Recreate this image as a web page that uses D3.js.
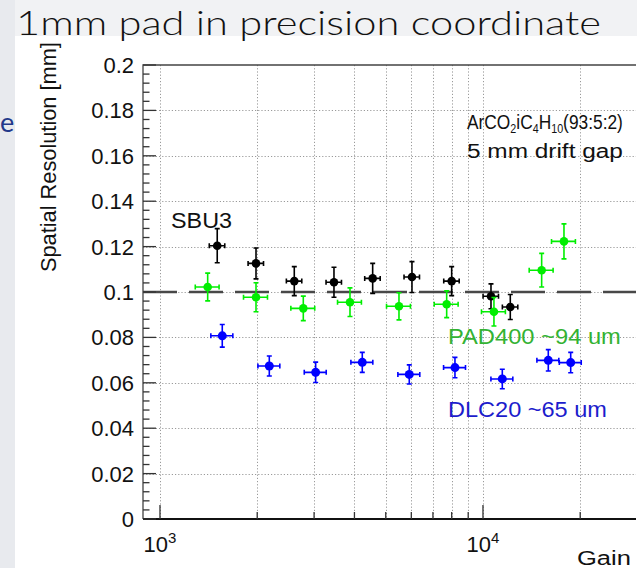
<!DOCTYPE html>
<html>
<head>
<meta charset="utf-8">
<script src="https://cdn.jsdelivr.net/npm/d3@7"></script>
<style>
  html, body { margin: 0; padding: 0; background: #ffffff; }
  svg { display: block; }
</style>
</head>
<body>
<svg id="chart" width="637" height="568"></svg>
<script>
// ---------------- data ----------------
const sbu3Gain     = [1504, 1983, 2605, 3457, 4555, 6028, 8000, 10588, 12150];
const sbu3GainErr  = [83, 109, 143, 190, 251, 332, 440, 582, 668];
const sbu3Res      = [0.1204, 0.1126, 0.1048, 0.1043, 0.1060, 0.1066, 0.1048, 0.0981, 0.0934];
const sbu3ResErr   = [0.0075, 0.0068, 0.0064, 0.0066, 0.0066, 0.0068, 0.0064, 0.0055, 0.0055];

const pad400Gain    = [1405, 1983, 2778, 3875, 5495, 7720, 10814, 15195, 17815];
const pad400GainErr = [119, 169, 236, 329, 467, 656, 919, 1292, 1514];
const pad400Res     = [0.1022, 0.0977, 0.0928, 0.0955, 0.0937, 0.0946, 0.0913, 0.1096, 0.1223];
const pad400ResErr  = [0.0061, 0.0064, 0.0054, 0.0063, 0.0060, 0.0059, 0.0063, 0.0074, 0.0077];

const dlc20Gain    = [1559, 2180, 3034, 4230, 5913, 8190, 11477, 15930, 18690];
const dlc20GainErr = [122, 170, 237, 330, 461, 639, 895, 1243, 1458];
const dlc20Res     = [0.0807, 0.0674, 0.0646, 0.0690, 0.0637, 0.0667, 0.0617, 0.0699, 0.0689];
const dlc20ResErr  = [0.0050, 0.0044, 0.0045, 0.0044, 0.0042, 0.0045, 0.0043, 0.0047, 0.0045];

const xDomain = [886, 29770];
const yDomain = [0, 0.2];
const xGridValues = [1000, 2000, 3000, 4000, 5000, 6000, 7000, 8000, 9000, 10000, 20000];
const xDecadeTicks = [1000, 10000];
const xDecadeExponents = ["3", "4"];
const yTickValues = [0, 0.02, 0.04, 0.06, 0.08, 0.1, 0.12, 0.14, 0.16, 0.18, 0.2];
const yTickLabels = ["0", "0.02", "0.04", "0.06", "0.08", "0.1", "0.12", "0.14", "0.16", "0.18", "0.2"];
const referenceLevel = 0.1;

const titleText = "1mm pad in precision coordinate";
const yAxisTitle = "Spatial Resolution [mm]";
const xAxisTitle = "Gain";

// ---------------- layout ----------------
const svg = d3.select("#chart");
const L = 143, R = 636, T = 65, B = 519;
const x = d3.scaleLog().domain(xDomain).range([L, R]);
const y = d3.scaleLinear().domain(yDomain).range([B, T]);
const SANS = "'Liberation Sans', Arial, Helvetica, sans-serif";

// helper: stretch text horizontally so that it spans x0..x1
function fit(sel, x0, x1, baseline) {
  const bb = sel.node().getBBox();
  const s = (x1 - x0) / bb.width;
  sel.attr("x", 0).attr("y", 0)
     .attr("transform", `translate(${x0 - bb.x * s},${baseline}) scale(${s},1)`);
}

// slide background
svg.append("rect").attr("width", 637).attr("height", 568).attr("fill", "#f1f2f4");
svg.append("rect").attr("x", 15).attr("y", 36).attr("width", 622).attr("height", 532).attr("fill", "#ffffff");
svg.append("rect").attr("x", 0).attr("y", 0).attr("width", 15).attr("height", 568).attr("fill", "#e8eaee");
svg.append("text").attr("x", 0).attr("y", 132).attr("font-family", "Lato, sans-serif")
   .attr("font-size", 27).attr("fill", "#22398a").text("e");

// title
const title = svg.append("text").attr("font-family", "Lato, 'Open Sans', sans-serif")
   .attr("font-size", 34).attr("font-weight", 300).attr("fill", "#111").text(titleText);
fit(title, 16, 601, 35);

// grid
const grid = svg.append("g").attr("stroke", "#9a9a9a").attr("stroke-width", 1).attr("stroke-dasharray", "1.2,2");
grid.selectAll("line.v").data(xGridValues).join("line").attr("class", "v")
  .attr("x1", d => Math.round(x(d)) + 0.5).attr("x2", d => Math.round(x(d)) + 0.5)
  .attr("y1", T).attr("y2", B);
grid.selectAll("line.h").data(yTickValues.filter(v => v > 0 && v < 0.2)).join("line").attr("class", "h")
  .attr("y1", d => Math.round(y(d)) + 0.5).attr("y2", d => Math.round(y(d)) + 0.5)
  .attr("x1", L).attr("x2", R);

// reference dashed line
svg.append("line").attr("x1", L).attr("x2", R)
  .attr("y1", y(referenceLevel)).attr("y2", y(referenceLevel))
  .attr("stroke", "#484848").attr("stroke-width", 2.5).attr("stroke-dasharray", "34,12");

// frame
svg.append("path").attr("d", `M${L},${B}V${T}H${R}`).attr("fill", "none")
  .attr("stroke", "#444").attr("stroke-width", 1.3);
svg.append("line").attr("x1", L).attr("x2", R).attr("y1", B).attr("y2", B)
  .attr("stroke", "#111").attr("stroke-width", 2);

// y axis ticks
const yMinor = d3.range(0, 0.2001, 0.004);
svg.append("g").selectAll("line").data(yMinor).join("line")
  .attr("x1", L).attr("x2", (d, i) => L + (i % 5 === 0 ? 13 : 6.5))
  .attr("y1", d => y(d)).attr("y2", d => y(d))
  .attr("stroke", "#333").attr("stroke-width", 1.3);
svg.append("g").selectAll("text").data(yTickValues).join("text")
  .attr("x", 134).attr("y", d => y(d)).attr("dy", "0.36em")
  .attr("text-anchor", "end").attr("font-family", SANS).attr("font-size", 22).attr("fill", "#111")
  .text((d, i) => yTickLabels[i]);

// x axis ticks
svg.append("g").selectAll("line").data(xGridValues).join("line")
  .attr("x1", d => x(d)).attr("x2", d => x(d))
  .attr("y1", B).attr("y2", d => B - (xDecadeTicks.includes(d) ? 14 : 7))
  .attr("stroke", "#333").attr("stroke-width", 1.3);
xDecadeTicks.forEach((d, i) => {
  const t = svg.append("text").attr("x", x(d)).attr("y", 552).attr("text-anchor", "middle")
    .attr("font-family", SANS).attr("font-size", 22).attr("fill", "#111");
  t.append("tspan").text("10");
  t.append("tspan").attr("font-size", 15).attr("dy", -9).text(xDecadeExponents[i]);
});

// axis titles
const xt = svg.append("text").attr("font-family", SANS).attr("font-size", 21).attr("fill", "#111").text(xAxisTitle);
fit(xt, 577, 631, 565);
const yt = svg.append("text").attr("font-family", SANS).attr("font-size", 22).attr("fill", "#111").text(yAxisTitle);
{
  const bb = yt.node().getBBox();
  const s = 230 / bb.width;
  yt.attr("x", 0).attr("y", 0).attr("transform", `translate(56,272) rotate(-90) scale(${s},1)`);
}

// series
function drawSeries(gx, gxe, ry, rye, color, r) {
  const g = svg.append("g");
  const data = gx.map((v, i) => ({ gx: v, ex: gxe[i], ry: ry[i], ey: rye[i] }));
  const cap = 2.5;
  data.forEach(d => {
    const cx = x(d.gx), cy = y(d.ry);
    const xl = x(d.gx - d.ex), xr = x(d.gx + d.ex);
    const yt_ = y(d.ry + d.ey), yb = y(d.ry - d.ey);
    const p = `M${xl},${cy}H${xr}M${cx},${yt_}V${yb}` +
              `M${xl},${cy - cap}V${cy + cap}M${xr},${cy - cap}V${cy + cap}` +
              `M${cx - cap},${yt_}H${cx + cap}M${cx - cap},${yb}H${cx + cap}`;
    g.append("path").attr("d", p).attr("stroke", color).attr("stroke-width", 1.6).attr("fill", "none");
  });
  g.selectAll("circle").data(data).join("circle")
    .attr("cx", d => x(d.gx)).attr("cy", d => y(d.ry)).attr("r", r).attr("fill", color);
}
drawSeries(sbu3Gain, sbu3GainErr, sbu3Res, sbu3ResErr, "#000000", 4.3);
drawSeries(pad400Gain, pad400GainErr, pad400Res, pad400ResErr, "#00ee00", 4.3);
drawSeries(dlc20Gain, dlc20GainErr, dlc20Res, dlc20ResErr, "#0000ff", 4.5);

// annotations
const sbu = svg.append("text").attr("font-family", SANS).attr("font-size", 22).attr("fill", "#111").text("SBU3");
fit(sbu, 171, 232, 228);

const gas = svg.append("text").attr("font-family", SANS).attr("font-size", 21).attr("fill", "#111");
gas.append("tspan").text("ArCO");
gas.append("tspan").attr("font-size", 13).attr("dy", 4).text("2");
gas.append("tspan").attr("dy", -4).text("iC");
gas.append("tspan").attr("font-size", 13).attr("dy", 4).text("4");
gas.append("tspan").attr("dy", -4).text("H");
gas.append("tspan").attr("font-size", 13).attr("dy", 4).text("10");
gas.append("tspan").attr("dy", -4).text("(93:5:2)");
fit(gas, 467, 623, 129);

const gap = svg.append("text").attr("font-family", SANS).attr("font-size", 20).attr("fill", "#111").text("5 mm drift gap");
fit(gap, 467, 623, 158);

const padLbl = svg.append("text").attr("font-family", SANS).attr("font-size", 22).attr("fill", "#33b233").text("PAD400 ~94 um");
fit(padLbl, 448, 621, 344);
const dlcLbl = svg.append("text").attr("font-family", SANS).attr("font-size", 22).attr("fill", "#1c1ccc").text("DLC20 ~65 um");
fit(dlcLbl, 448, 607, 417);
</script>
</body>
</html>
